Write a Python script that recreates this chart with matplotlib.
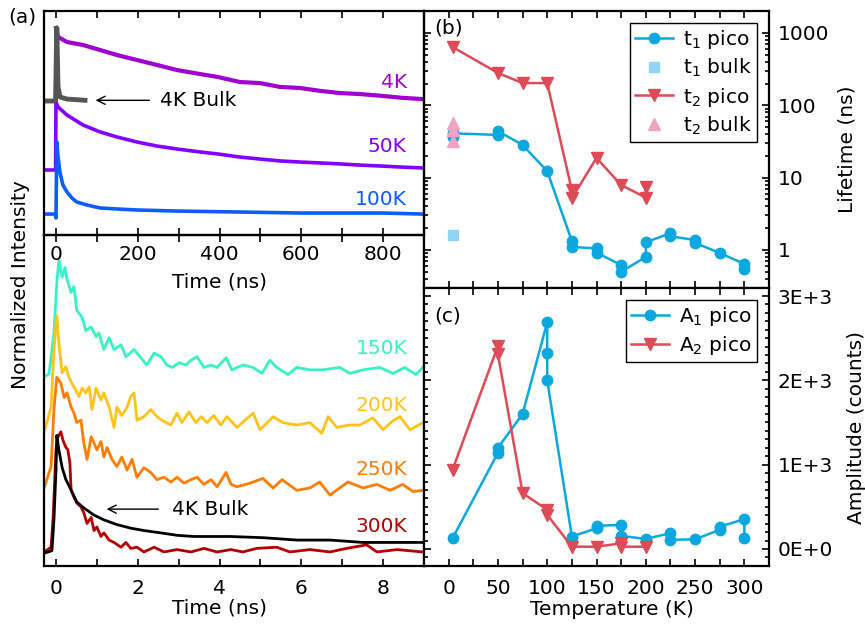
import matplotlib
matplotlib.use('Agg')
import matplotlib.pyplot as plt
import numpy as np
from matplotlib.ticker import MultipleLocator, LogLocator, NullFormatter, NullLocator

plt.rcParams['font.family'] = 'DejaVu Sans'
plt.rcParams['mathtext.fontset'] = 'dejavusans'
plt.rcParams['font.size'] = 14.5

# ---------------- panel (a), top: long time window (ns), log intensity ----------------
t_4k = [0, 5, 27, 66, 108, 149, 198, 247, 296, 352, 396, 450, 499, 548, 597, 646, 694, 743, 799, 848, 897]
i_4k = [1.0, 0.751, 0.640, 0.582, 0.496, 0.423, 0.361, 0.308, 0.262, 0.231, 0.210, 0.179, 0.173,
        0.153, 0.148, 0.135, 0.126, 0.122, 0.115, 0.108, 0.104]

t_50k = [-29, -1, 0, 5, 27, 66, 108, 149, 198, 247, 296, 352, 396, 450, 499, 548, 597, 646, 694, 743, 799, 848, 897]
i_50k = [0.01087, 0.01087, 0.0947, 0.0808, 0.0626, 0.0455, 0.0365, 0.0311, 0.0265, 0.0233, 0.0212,
         0.0193, 0.0181, 0.0164, 0.0154, 0.0145, 0.0140, 0.0136, 0.0132, 0.0127, 0.0123, 0.0119, 0.0116]

t_100k = [-29, -2, 0, 2, 5, 10, 17, 27, 39, 51, 76, 108, 149, 198, 296, 450, 600, 800, 897]
i_100k = [0.00267, 0.00267, 0.00236, 0.0265, 0.0164, 0.00987, 0.00673, 0.00539, 0.00445, 0.00392,
          0.00356, 0.00324, 0.00314, 0.00304, 0.00294, 0.00285, 0.00276, 0.00276, 0.00267]

t_bulk_long = [-29, -1, 1, 2, 5, 10, 27, 50, 71]
i_bulk_long = [0.0978, 0.0978, 0.5, 1.0, 0.153, 0.111, 0.104, 0.102, 0.100]

# ---------------- panel (a), bottom: short time window (ns), normalized ----------------
t_150k = [-0.29, -0.17, -0.05, 0.02, 0.07, 0.15, 0.22, 0.27, 0.37, 0.44, 0.51, 0.64, 0.73, 0.86, 0.98,
          1.05, 1.17, 1.30, 1.42, 1.59, 1.71, 1.91, 2.08, 2.22, 2.40, 2.57, 2.71, 2.84, 3.01, 3.18,
          3.30, 3.45, 3.62, 3.79, 3.94, 4.16, 4.30, 4.57, 4.82, 5.04, 5.23, 5.40, 5.67, 5.89, 6.21,
          6.53, 6.94, 7.19, 7.51, 7.92, 8.24, 8.53, 8.80, 8.97]
i_150k = [0, 0.025, 0.37, 0.79, 0.98, 0.84, 0.92, 0.82, 0.71, 0.76, 0.56, 0.50, 0.39, 0.42, 0.34,
          0.37, 0.23, 0.33, 0.23, 0.27, 0.17, 0.23, 0.16, 0.10, 0.20, 0.17, 0.10, 0.08, 0.12, 0.10,
          0.14, 0.17, 0.08, 0.10, 0.08, 0.16, 0.06, 0.10, 0.08, 0.03, 0.14, 0.08, 0.02, 0.08, 0.06,
          0.06, 0.08, 0.03, 0.06, 0.08, 0.03, 0.08, 0.02, 0.08]

t_200k = [-0.29, -0.12, -0.05, 0.02, 0.07, 0.15, 0.24, 0.32, 0.39, 0.49, 0.56, 0.64, 0.73, 0.81, 0.88,
          0.98, 1.10, 1.17, 1.30, 1.42, 1.49, 1.61, 1.74, 1.83, 1.91, 1.98, 2.15, 2.32, 2.47, 2.64,
          2.81, 2.96, 3.08, 3.25, 3.42, 3.55, 3.69, 3.86, 4.03, 4.18, 4.43, 4.82, 4.99, 5.31, 5.55,
          5.89, 6.21, 6.50, 6.65, 6.87, 7.19, 7.43, 7.75, 8.00, 8.22, 8.41, 8.66, 8.97]
i_200k = [-0.01, 0.20, 0.68, 0.97, 0.74, 0.49, 0.54, 0.45, 0.40, 0.34, 0.29, 0.36, 0.32, 0.37, 0.18,
          0.36, 0.26, 0.32, 0.20, 0.03, 0.20, 0.13, 0.20, 0.29, 0.32, 0.09, 0.12, 0.18, 0.12, 0.08,
          0.05, 0.15, 0.07, 0.16, 0.07, 0.12, 0.07, 0.13, 0.05, 0.12, 0.03, 0.15, 0.01, 0.12, 0.07,
          0.05, 0.07, -0.02, 0.12, 0.03, 0.05, 0.05, 0.11, 0.01, 0.08, 0.12, 0.01, 0.07]

t_250k = [-0.29, -0.12, -0.05, 0.02, 0.12, 0.20, 0.27, 0.37, 0.44, 0.51, 0.61, 0.68, 0.76, 0.86, 0.93,
          1.00, 1.10, 1.17, 1.25, 1.37, 1.49, 1.61, 1.74, 1.86, 1.98, 2.15, 2.32, 2.47, 2.64, 2.81,
          2.96, 3.13, 3.30, 3.45, 3.62, 3.79, 3.94, 4.16, 4.28, 4.43, 4.74, 5.06, 5.31, 5.53, 5.89,
          6.21, 6.45, 6.70, 6.94, 7.14, 7.51, 7.85, 8.17, 8.48, 8.73, 8.97]
i_250k = [0, 0.18, 0.66, 0.93, 0.88, 0.76, 0.80, 0.68, 0.63, 0.55, 0.57, 0.38, 0.24, 0.43, 0.38,
          0.32, 0.39, 0.26, 0.34, 0.24, 0.18, 0.26, 0.15, 0.24, 0.09, 0.17, 0.13, 0.07, 0.09, 0.05,
          0.09, 0.04, 0.07, 0.09, 0.03, 0.07, 0.01, 0.13, 0.03, 0.01, 0.04, 0.08, 0, 0.07, -0.02,
          0, 0.05, -0.06, 0, 0.05, 0, 0.03, -0.02, 0.03, -0.03, -0.02]

t_300k = [-0.29, -0.12, -0.07, 0.00, 0.05, 0.12, 0.17, 0.24, 0.29, 0.34, 0.37, 0.44, 0.51, 0.61, 0.68,
          0.76, 0.86, 0.93, 1.00, 1.10, 1.17, 1.30, 1.42, 1.59, 1.71, 1.83, 1.98, 2.15, 2.40, 2.64,
          2.96, 3.30, 3.62, 3.94, 4.28, 4.57, 4.91, 5.40, 5.72, 6.21, 6.70, 7.11, 7.60, 7.85, 8.34, 8.97]
i_300k = [0, 0.04, 0.29, 0.86, 0.97, 1.01, 0.94, 0.88, 0.86, 0.75, 0.52, 0.46, 0.41, 0.38, 0.33,
          0.24, 0.29, 0.18, 0.21, 0.13, 0.16, 0.10, 0.08, 0.04, 0.08, 0.03, 0.04, 0, 0.04, 0,
          0.02, 0, 0.03, 0, 0.02, 0, 0.03, 0.04, 0, 0.02, 0, 0.03, 0.06, 0, 0.02, 0]

t_bulk_short = [-0.29, -0.10, -0.05, 0.00, 0.02, 0.07, 0.15, 0.24, 0.37, 0.51, 0.68, 0.93, 1.17, 1.49,
                1.83, 2.15, 2.57, 2.96, 3.37, 3.79, 4.25, 5.06, 5.89, 6.70, 7.51, 8.34, 8.97]
i_bulk_short = [-0.01, 0.01, 0.27, 0.69, 0.98, 0.86, 0.71, 0.61, 0.52, 0.42, 0.37, 0.31, 0.27, 0.23,
                0.20, 0.18, 0.16, 0.14, 0.13, 0.13, 0.13, 0.12, 0.10, 0.10, 0.08, 0.08, 0.08]

# ---------------- panel (b): lifetimes (ns) vs temperature (K) ----------------
T_t1 = [4, 4, 50, 50, 75, 100, 125, 125, 150, 150, 175, 175, 200, 200, 225, 225, 250, 250, 275, 300, 300]
t1_pico = [36.5, 41, 39, 44, 28.3, 12.3, 1.33, 1.10, 1.05, 0.92, 0.62, 0.50, 0.80, 1.28, 1.70, 1.55,
           1.37, 1.25, 0.91, 0.64, 0.54]
T_t1_bulk = [4]
t1_bulk = [1.61]
T_t2 = [4, 50, 75, 100, 125, 125, 150, 175, 200, 200]
t2_pico = [640, 280, 203, 203, 6.7, 5.2, 18.7, 7.9, 5.3, 7.5]
T_t2_bulk = [4, 4, 4]
t2_bulk = [57, 45.5, 32]

# ---------------- panel (c): amplitudes (counts) vs temperature (K) ----------------
T_a1 = [4, 50, 50, 75, 100, 100, 100, 125, 150, 150, 175, 175, 200, 225, 225, 250, 275, 275, 300, 300]
a1_pico = [127, 1140, 1200, 1600, 2690, 2320, 2000, 147, 246, 274, 286, 155, 119, 187, 107, 115,
           226, 265, 353, 127]
T_a2 = [4, 50, 50, 75, 100, 100, 125, 150, 175, 175, 200]
a2_pico = [940, 2408, 2310, 663, 464, 405, 27, 27, 67, 27, 27]

# styles
c_4k, c_50k, c_100k, c_bulk = '#a000d2', '#8600ff', '#0d5cff', '#555555'
c_150k, c_200k, c_250k, c_300k = '#38f2c6', '#ffc31a', '#ff7d00', '#b30000'
c_blue, c_lblue, c_red, c_pink = '#0aa8de', '#8fd4f2', '#de4a55', '#f0a3c2'

W, H = 865, 625
fig = plt.figure(figsize=(W / 100, H / 100), dpi=100)


def box(x0, y0, x1, y1):
    return [x0 / W, 1 - y1 / H, (x1 - x0) / W, (y1 - y0) / H]


def spines(ax):
    for s in ax.spines.values():
        s.set_linewidth(1.6)


ax_top = fig.add_axes(box(44, 11, 424, 235))
ax_bot = fig.add_axes(box(44, 235, 424, 566))
ax_b = fig.add_axes(box(424, 11, 769, 288))
ax_c = fig.add_axes(box(424, 288, 769, 566))

# (a) top
ax_top.plot(t_4k, i_4k, color=c_4k, lw=3)
ax_top.plot(t_50k, i_50k, color=c_50k, lw=2.6)
ax_top.plot(t_100k, i_100k, color=c_100k, lw=2.6)
ax_top.plot(t_bulk_long, i_bulk_long, color=c_bulk, lw=3.5)
ax_top.set_yscale('log')
ax_top.set_xlim(-29.3, 900)
ax_top.set_ylim(10 ** -2.863, 10 ** 0.235)
ax_top.xaxis.set_major_locator(MultipleLocator(200))
ax_top.xaxis.set_minor_locator(MultipleLocator(100))
ax_top.yaxis.set_major_locator(NullLocator())
ax_top.yaxis.set_minor_locator(NullLocator())
ax_top.tick_params(axis='x', which='both', direction='in', top=True, bottom=True, pad=7,
                   length=5, width=1.2)
ax_top.set_xlabel('Time (ns)')
ax_top.xaxis.set_label_coords((219 - 44) / 380, (235 - 273) / 224)
ax_top.text(858, 0.179, '4K', color=c_4k, ha='right', va='center')
ax_top.text(858, 0.0226, '50K', color=c_50k, ha='right', va='center')
ax_top.text(858, 0.00418, '100K', color=c_100k, ha='right', va='center')
ax_top.annotate('', xy=(90, 0.1), xytext=(235, 0.1),
                arrowprops=dict(arrowstyle='->', lw=1, color='black'))
ax_top.text(254, 0.1, '4K Bulk', ha='left', va='center')
spines(ax_top)

# (a) bottom, traces stacked with offsets
off_150k, off_200k, off_250k = 1.471, 1.017, 0.538
ax_bot.plot(t_150k, np.array(i_150k) + off_150k, color=c_150k, lw=2)
ax_bot.plot(t_200k, np.array(i_200k) + off_200k, color=c_200k, lw=2)
ax_bot.plot(t_250k, np.array(i_250k) + off_250k, color=c_250k, lw=2)
ax_bot.plot(t_300k, i_300k, color=c_300k, lw=2)
ax_bot.plot(t_bulk_short, i_bulk_short, color='black', lw=2)
ax_bot.set_xlim(-0.293, 9.0)
ax_bot.set_ylim(-0.118, 2.664)
ax_bot.xaxis.set_major_locator(MultipleLocator(2))
ax_bot.xaxis.set_minor_locator(MultipleLocator(1))
ax_bot.set_yticks([])
ax_bot.tick_params(axis='x', which='both', direction='in', top=True, bottom=True, length=5,
                   pad=9, width=1.2)
ax_bot.set_xlabel('Time (ns)')
ax_bot.xaxis.set_label_coords((219 - 44) / 380, (566 - 598) / 331)
ax_bot.text(8.6, 1.706, '150K', color=c_150k, ha='right', va='center')
ax_bot.text(8.6, 1.227, '200K', color=c_200k, ha='right', va='center')
ax_bot.text(8.6, 0.689, '250K', color=c_250k, ha='right', va='center')
ax_bot.text(8.6, 0.21, '300K', color=c_300k, ha='right', va='center')
ax_bot.annotate('', xy=(1.17, 0.36), xytext=(2.57, 0.36),
                arrowprops=dict(arrowstyle='->', lw=1, color='black'))
ax_bot.text(2.84, 0.36, '4K Bulk', ha='left', va='center')
spines(ax_bot)
ax_top.set_zorder(3)
ax_top.patch.set_alpha(0)

# (b)
ax_b.plot(T_t1, t1_pico, '-o', color=c_blue, ms=7.5, lw=1.8, label='t$_1$ pico')
ax_b.plot(T_t1_bulk, t1_bulk, 's', color=c_lblue, ms=7, ls='none', label='t$_1$ bulk')
ax_b.plot(T_t2, t2_pico, '-v', color=c_red, ms=8.5, lw=1.8, label='t$_2$ pico')
ax_b.plot(T_t2_bulk, t2_bulk, '^', color=c_pink, ms=8.5, ls='none', label='t$_2$ bulk')
ax_b.set_yscale('log')
ax_b.set_xlim(-25, 325)
ax_b.set_ylim(0.298, 2014)
ax_b.xaxis.set_major_locator(MultipleLocator(50))
ax_b.xaxis.set_minor_locator(MultipleLocator(25))
ax_b.yaxis.set_major_locator(LogLocator(base=10))
ax_b.yaxis.set_minor_locator(LogLocator(base=10, subs=np.arange(2, 10)))
ax_b.yaxis.set_minor_formatter(NullFormatter())
ax_b.set_yticks([1, 10, 100, 1000])
ax_b.set_yticklabels(['1', '10', '100', '1000'])
ax_b.tick_params(axis='both', which='both', direction='in', top=True, bottom=True,
                 left=True, right=True, labelleft=False, labelright=True, labelbottom=False, width=1.2)
ax_b.tick_params(axis='both', which='major', length=5, pad=6)
ax_b.tick_params(axis='both', which='minor', length=3)
ax_b.tick_params(axis='x', which='minor', length=5)
ax_b.yaxis.set_label_position('right')
ax_b.set_ylabel('Lifetime (ns)', labelpad=6)
ax_b.text(0.03, 0.94, '(b)', transform=ax_b.transAxes, ha='left', va='center')
leg = ax_b.legend(loc='upper right', frameon=True, fancybox=False, edgecolor='black', framealpha=1,
                  borderpad=0.25, labelspacing=0.3, handlelength=1.9, handletextpad=0.5,
                  borderaxespad=0.6, fontsize=14.5)
leg.get_frame().set_linewidth(1.0)
spines(ax_b)

# (c)
ax_c.plot(T_a1, a1_pico, '-o', color=c_blue, ms=7.5, lw=1.8, label='A$_1$ pico')
ax_c.plot(T_a2, a2_pico, '-v', color=c_red, ms=8.5, lw=1.8, label='A$_2$ pico')
ax_c.set_xlim(-25, 325)
ax_c.set_ylim(-202, 3095)
ax_c.xaxis.set_major_locator(MultipleLocator(50))
ax_c.xaxis.set_minor_locator(MultipleLocator(25))
ax_c.set_yticks([0, 1000, 2000, 3000])
ax_c.set_yticklabels(['0E+0', '1E+3', '2E+3', '3E+3'])
ax_c.yaxis.set_minor_locator(MultipleLocator(100))
ax_c.tick_params(axis='both', which='both', direction='in', top=True, bottom=True,
                 left=True, right=True, labelleft=False, labelright=True, width=1.2)
ax_c.tick_params(axis='both', which='major', length=5, pad=6)
ax_c.tick_params(axis='x', which='major', pad=9)
ax_c.tick_params(axis='both', which='minor', length=3)
ax_c.tick_params(axis='x', which='minor', length=5)
ax_c.yaxis.set_label_position('right')
ax_c.set_ylabel('Amplitude (counts)', labelpad=10)
ax_c.set_xlabel('Temperature (K)')
ax_c.xaxis.set_label_coords((612 - 424) / 345, (566 - 600) / 278)
ax_c.text(0.03, 0.9, '(c)', transform=ax_c.transAxes, ha='left', va='center')
leg = ax_c.legend(loc='upper right', frameon=True, fancybox=False, edgecolor='black', framealpha=1,
                  borderpad=0.25, labelspacing=0.3, handlelength=1.9, handletextpad=0.5,
                  borderaxespad=0.6, fontsize=14.5)
leg.get_frame().set_linewidth(1.0)
spines(ax_c)

fig.text(21 / W, 1 - 285 / H, 'Normalized Intensity', rotation=90, ha='center', va='center')
fig.text(22 / W, 1 - 17 / H, '(a)', ha='center', va='center')

fig.savefig('out.png', dpi=100)
